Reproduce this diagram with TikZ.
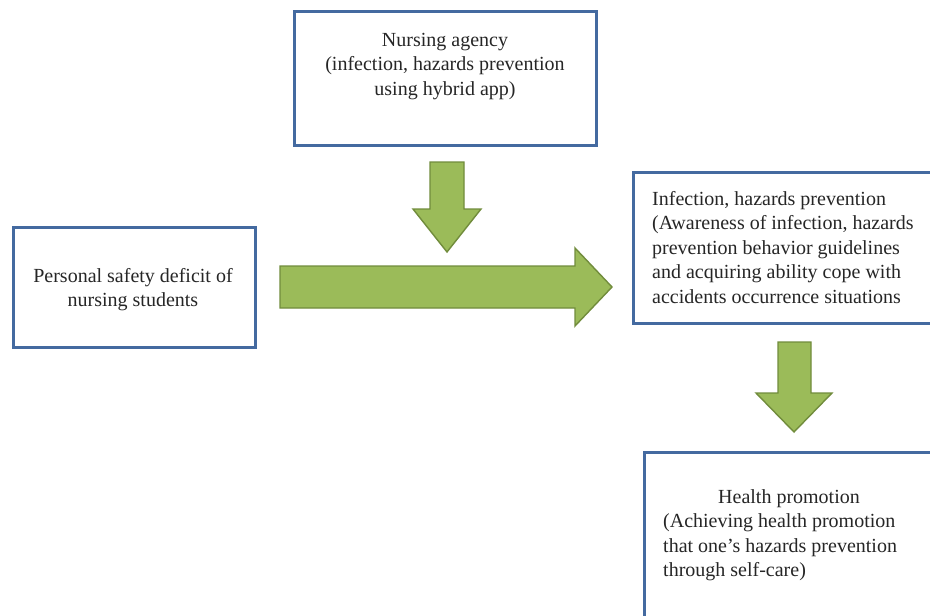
\documentclass[tikz,border=0pt]{standalone}
\usepackage{fontspec}
\setmainfont{Liberation Serif}
\definecolor{boxblue}{RGB}{68,106,160}
\definecolor{arrowfill}{RGB}{155,187,89}
\definecolor{arrowline}{RGB}{113,140,60}
\begin{document}
\begin{tikzpicture}[x=1pt,y=-1pt,
  box/.style={draw=boxblue, line width=3pt, fill=white, inner sep=0pt},
  txt/.style={inner sep=0pt, font=\fontsize{20}{24.5}\selectfont, text=black!85},
  blockarrow/.style={fill=arrowfill, draw=arrowline, line width=1.4pt, line join=miter}]
\clip (0,0) rectangle (930,616);
\fill[white] (0,0) rectangle (930,616);
% boxes
\node[box, minimum width=302pt, minimum height=134pt] (agency) at (445,78) {};
\node[box, minimum width=242pt, minimum height=120pt] (personal) at (134,287) {};
\node[box, minimum width=304pt, minimum height=151pt] (infection) at (785,247.5) {};
\node[box, minimum width=300pt, minimum height=200pt] (health) at (794,552) {};
% texts
\node[txt, align=center, anchor=north] (agencytext) at (445,33)
  {Nursing agency\\(infection, hazards prevention\\using hybrid app)};
\node[txt, align=center, anchor=north] (personaltext) at (133,268)
  {Personal safety deficit of\\nursing students};
\node[txt, align=left, anchor=north west] (infectiontext) at (652,191)
  {Infection, hazards prevention\\(Awareness of infection, hazards\\prevention behavior guidelines\\and acquiring ability cope with\\accidents occurrence situations};
\node[txt, align=left, anchor=north west] (healthtext) at (663,489)
  {\hspace*{55pt}Health promotion\\(Achieving health promotion\\that one’s hazards prevention\\through self-care)};
% block arrows
\draw[blockarrow] (280,266) -- (575,266) -- (575,248) -- (612,287) -- (575,326) -- (575,308) -- (280,308) -- cycle;
\draw[blockarrow] (430,162) -- (464,162) -- (464,209) -- (481,209) -- (447,252) -- (413,209) -- (430,209) -- cycle;
\draw[blockarrow] (778,342) -- (811,342) -- (811,393) -- (832,393) -- (794,432) -- (756,393) -- (778,393) -- cycle;
\end{tikzpicture}
\end{document}
